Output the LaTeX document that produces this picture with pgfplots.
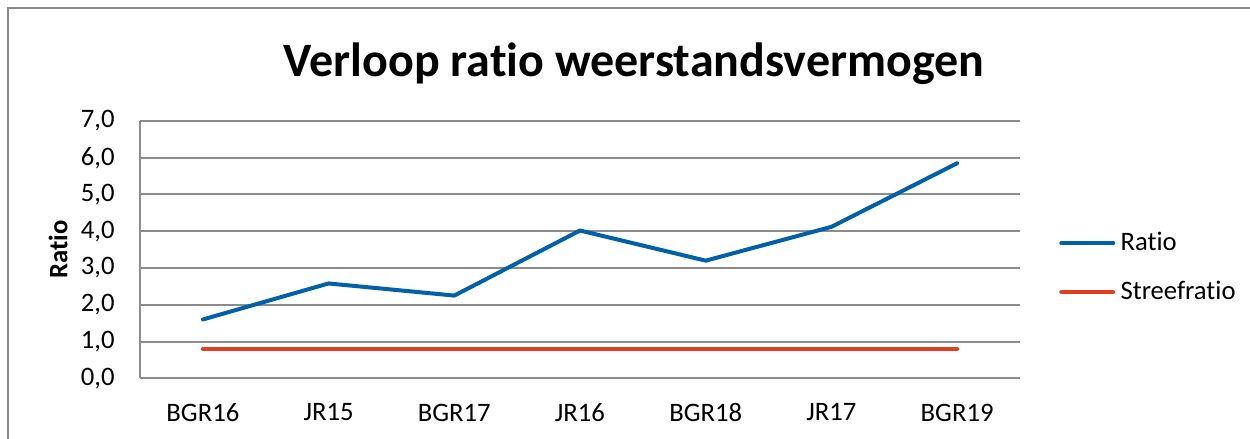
\documentclass[border=0pt]{standalone}
\usepackage{pgfplots}
\pgfplotsset{compat=1.18}
\usepackage{fontspec}
\setmainfont[Ligatures=NoCommon]{Carlito}
\definecolor{ratioblue}{HTML}{0060AA}
\definecolor{streefred}{HTML}{E04020}
\definecolor{gridgray}{HTML}{8C8C8C}
\begin{document}
\begin{tikzpicture}
\begin{scope}[shift={(-52.5pt,141.86pt)}, x=0.375pt, y=-0.375pt]
\path[use as bounding box] (0,0) rectangle (1250,438);
\draw[gridgray, line width=0.9pt] (8,1000) -- (8,8) -- (2000,8);
\node[font=\bfseries\fontsize{18}{22}\selectfont, anchor=base] at (634,76) {Verloop ratio weerstandsvermogen};
\end{scope}
\begin{axis}[
  scale only axis, width=330pt, height=96.5pt,
  xmin=-0.5, xmax=6.5, ymin=0, ymax=7,
  xtick={0,...,6},
  xticklabels={BGR16,JR15,BGR17,JR16,BGR18,JR17,BGR19},
  ytick={0,1,...,7},
  ticklabel style={font=\fontsize{10}{12}\selectfont},
  major tick length=0pt,
  xticklabel style={yshift=-6pt},
  yticklabel style={xshift=-6pt, /pgf/number format/.cd, fixed, fixed zerofill, precision=1, use comma, assume math mode=true},
  ymajorgrids,
  grid style={gridgray, line width=0.75pt},
  axis x line*=bottom, axis y line*=left,
  axis line style={gridgray, line width=0.75pt, -},
  ylabel={\textbf{Ratio}},
  ylabel style={font=\fontsize{10}{12}\selectfont, at={(axis description cs:-0.093,0.5)}, anchor=center},
  legend style={at={(axis description cs:1.044,0.43)}, anchor=west, draw=none, fill=none, inner sep=0pt,
     font=\fontsize{10}{12}\selectfont, row sep=6pt, cells={anchor=west}},
  legend image code/.code={\draw[#1, line cap=round] (0pt,0pt) -- (19.5pt,0pt);},
  legend cell align=left,
]
\addplot[ratioblue, line width=1.5pt, line cap=round, line join=round] coordinates {(0,1.6) (1,2.58) (2,2.25) (3,4.02) (4,3.2) (5,4.12) (6,5.85)};
\addlegendentry{Ratio}
\addplot[streefred, line width=1.5pt, line cap=round] coordinates {(0,0.8) (1,0.8) (2,0.8) (3,0.8) (4,0.8) (5,0.8) (6,0.8)};
\addlegendentry{Streefratio}
\end{axis}
\end{tikzpicture}
\end{document}
